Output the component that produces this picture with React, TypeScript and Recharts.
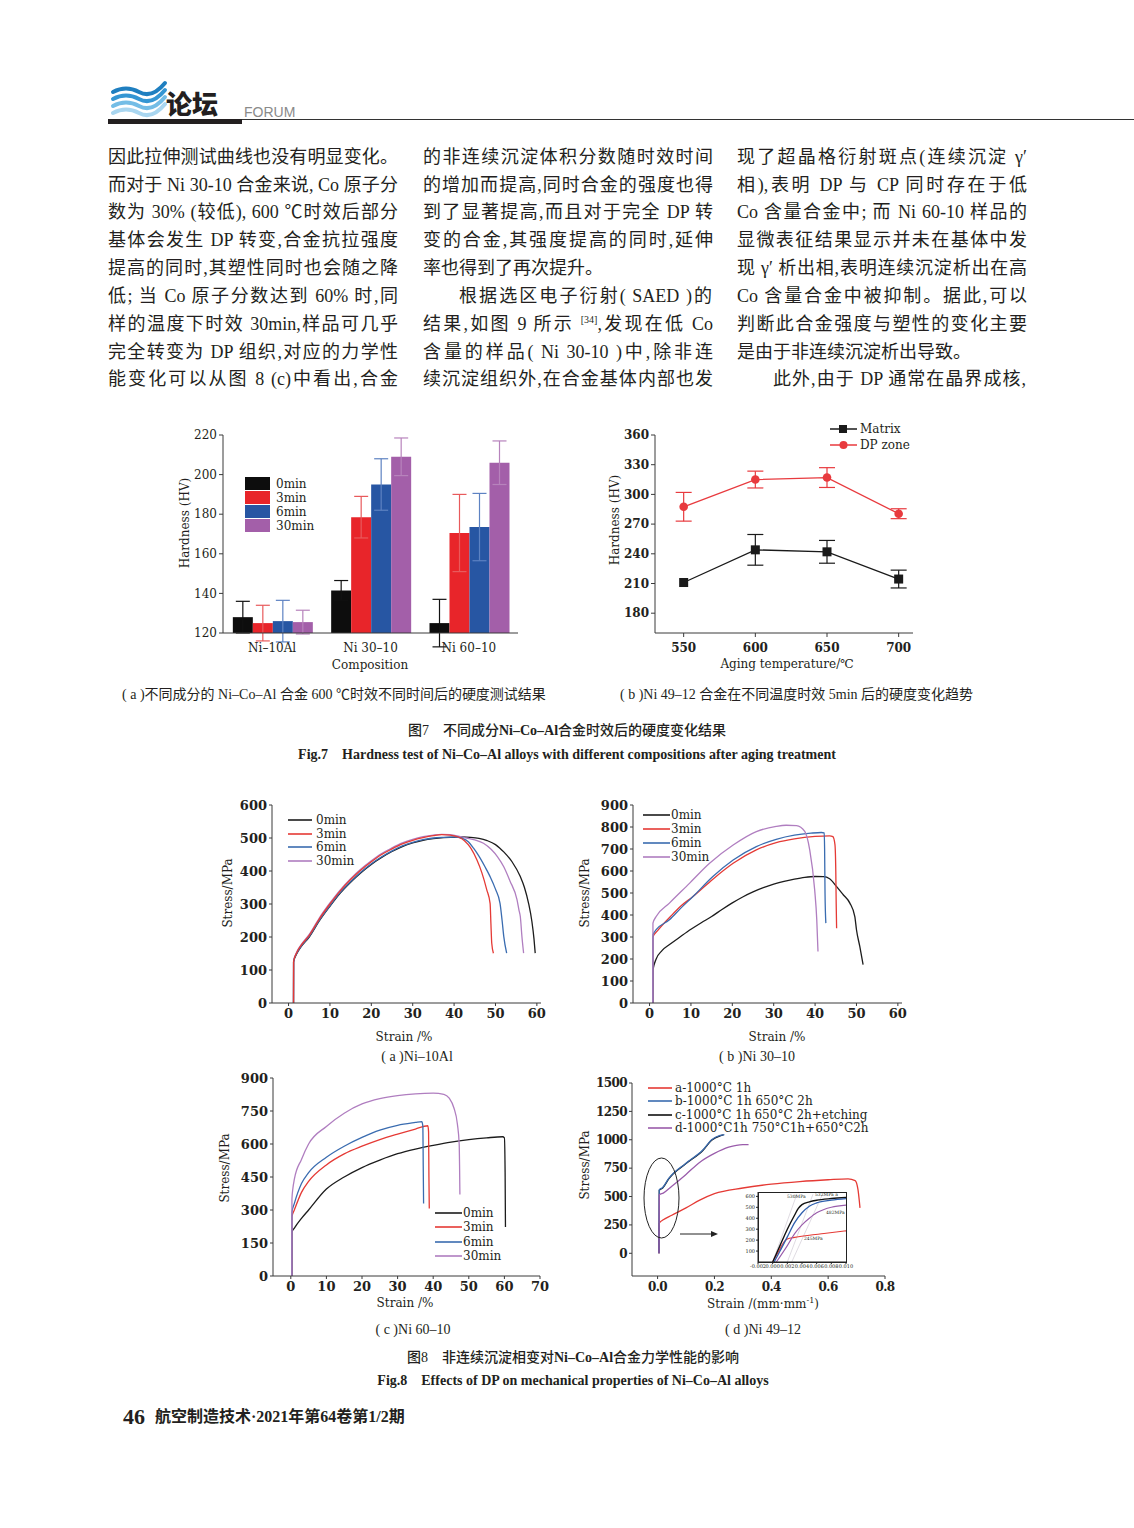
import React from 'react'
import { BarChart, Bar, XAxis, YAxis, ErrorBar, LineChart, Line } from 'recharts'

// ---------- Fig.7(a) hardness by composition ----------
const compositions = ['Ni–10Al', 'Ni 30–10', 'Ni 60–10']
const agingTimes = ['0min', '3min', '6min', '30min']
const hv0 = [128, 141.5, 125]
const hv0Err = [8, 5, 12]
const hv3 = [125, 178.5, 170.5]
const hv3Err = [9, 10.5, 19.5]
const hv6 = [126, 195, 173.5]
const hv6Err = [10.5, 13, 17]
const hv30 = [125.5, 209, 206]
const hv30Err = [6, 9.5, 11]
const hvTicks = [120, 140, 160, 180, 200, 220]

// ---------- Fig.7(b) hardness vs aging temperature ----------
const agingTemps = [550, 600, 650, 700]
const matrixHV = [211, 244, 242, 214.5]
const matrixErr = [0, 15.5, 11.5, 9]
const dpZoneHV = [287.5, 315, 317, 280.5]
const dpZoneErr = [14.5, 8.5, 10, 5]
const tempHvTicks = [180, 210, 240, 270, 300, 330, 360]

// ---------- Fig.8(a) Ni-10Al ----------
const strain0a = [1.2, 1.22, 2, 3, 5, 7.5, 10, 12.5, 15, 17.5, 20, 22.5, 25, 27.5, 30, 32.5, 35, 37.5, 40, 42, 44, 46, 48, 50, 51, 52, 54, 56, 57, 58, 58.8, 59.3, 59.6]
const stress0a = [0, 124, 150, 170, 200, 250, 293, 333, 366, 395, 420, 441, 459, 474, 485, 493, 498, 501, 502, 503, 502, 499, 492, 480, 470, 458, 428, 383, 350, 302, 247, 195, 151]
const strain3a = [1.2, 1.22, 2, 3, 5, 7.5, 10, 12.5, 15, 17.5, 20, 22.5, 25, 27.5, 30, 32.5, 35, 37, 39, 41, 42.5, 44, 45.5, 46.7, 47.9, 48.7, 48.9, 49.1, 49.5]
const stress3a = [0, 126, 153, 174, 205, 256, 300, 340, 374, 403, 428, 450, 467, 482, 493, 501, 507, 510, 509, 503, 492, 470, 434, 395, 343, 302, 240, 181, 151]
const strain6a = [1.2, 1.22, 2, 3, 5, 7.5, 10, 12.5, 15, 17.5, 20, 22.5, 25, 27.5, 30, 32.5, 35, 37.5, 40, 42, 43.5, 44.7, 46, 47.5, 48.7, 50, 51.1, 51.6, 52, 52.7]
const stress6a = [0, 125, 151, 171, 202, 252, 295, 335, 368, 397, 422, 443, 461, 476, 487, 495, 500, 502, 503, 499, 488, 469, 445, 412, 383, 345, 302, 250, 202, 151]
const strain30a = [1.2, 1.22, 2, 3, 5, 7.5, 10, 12.5, 15, 17.5, 20, 22.5, 25, 27.5, 30, 32.5, 35, 37, 39, 41, 43, 45, 47.1, 49, 50.5, 52, 53.5, 55.2, 55.7, 56, 56.4, 56.8]
const stress30a = [0, 127, 155, 176, 208, 259, 303, 343, 377, 406, 431, 453, 470, 485, 496, 504, 509, 511, 510, 506, 500, 494, 484, 465, 443, 413, 370, 313, 280, 262, 200, 151]

// ---------- Fig.8(b) Ni 30-10 ----------
const strain0b = [0.8, 0.82, 1.6, 3, 5, 7.5, 10, 12.5, 15, 17.5, 20, 22.5, 25, 27.5, 30, 32.5, 35, 37.5, 40, 42, 43.5, 45.2, 46.8, 48.4, 49.6, 50, 50.8, 51.6]
const stress0b = [0, 150, 200, 238, 268, 302, 335, 365, 393, 425, 455, 482, 505, 524, 540, 553, 563, 571, 575, 574, 565, 529, 492, 454, 393, 333, 257, 174]
const strain3b = [0.8, 0.82, 2, 5, 7.5, 10.5, 15.3, 20.2, 25.8, 30.6, 35, 40, 43.5, 44.3, 44.8, 45, 45.1, 45.2]
const stress3b = [0, 300, 330, 392, 440, 484, 563, 635, 696, 729, 746, 757, 760, 756, 720, 600, 450, 340]
const strain6b = [0.8, 0.82, 1.6, 4.8, 7.5, 10.5, 15.3, 20.2, 25.8, 30.6, 35, 39, 41.5, 42.2, 42.3, 42.4, 42.6]
const stress6b = [0, 310, 333, 378, 430, 484, 575, 650, 711, 744, 763, 772, 775, 773, 700, 500, 363]
const strain30b = [0.8, 0.82, 1.6, 4.8, 9.7, 14.5, 20.2, 25.8, 30.6, 33, 35.5, 37.5, 38.7, 39.9, 40.4, 40.7]
const stress30b = [0, 363, 393, 454, 545, 635, 718, 779, 803, 808, 806, 780, 696, 514, 380, 234]

// ---------- Fig.8(c) Ni 60-10 ----------
const strain0c = [0.3, 0.32, 1, 3, 5, 10, 15, 20, 25, 30, 35, 40, 45, 50, 55, 59.5, 60, 60.2, 60.3]
const stress0c = [0, 200, 218, 262, 300, 395, 450, 493, 527, 556, 577, 594, 609, 620, 628, 633, 628, 470, 223]
const strain3c = [0.3, 0.32, 1, 3, 5, 10, 15, 20, 25, 30, 35, 38.5, 38.7, 38.8, 38.9]
const stress3c = [0, 270, 300, 380, 430, 505, 555, 590, 620, 645, 668, 683, 655, 450, 307]
const strain6c = [0.3, 0.32, 1, 3, 5, 10, 15, 20, 25, 30, 35, 36.8, 37.1, 37.2, 37.3]
const stress6c = [0, 290, 330, 420, 470, 540, 590, 630, 663, 685, 698, 702, 680, 500, 330]
const strain30c = [0.3, 0.32, 0.6, 1, 3, 5, 10, 15, 20, 25, 30, 35, 40, 43, 44.5, 45.8, 46.8, 47.3, 47.5]
const stress30c = [0, 350, 400, 440, 530, 600, 680, 740, 782, 806, 820, 828, 831, 826, 808, 765, 690, 600, 370]

// ---------- Fig.8(d) Ni 49-12 ----------
const treatments = ['a-1000°C 1h', 'b-1000°C 1h 650°C 2h', 'c-1000°C 1h 650°C 2h+etching', 'd-1000°C1h 750°C1h+650°C2h']
const strainA = [0.005, 0.006, 0.02, 0.05, 0.1, 0.15, 0.2, 0.3, 0.4, 0.5, 0.6, 0.67, 0.695, 0.705, 0.712]
const stressA = [0, 265, 295, 335, 400, 470, 525, 575, 609, 632, 648, 656, 640, 560, 400]
const strainB = [0.005, 0.006, 0.018, 0.04, 0.1, 0.16, 0.19, 0.22, 0.235]
const stressB = [0, 560, 580, 662, 794, 912, 1000, 1038, 1045]
const strainC = [0.005, 0.006, 0.018, 0.04, 0.1, 0.16, 0.19, 0.22, 0.232]
const stressC = [0, 555, 575, 658, 790, 908, 996, 1035, 1043]
const strainD = [0.005, 0.006, 0.02, 0.05, 0.1, 0.15, 0.2, 0.25, 0.3, 0.32]
const stressD = [0, 515, 530, 590, 695, 805, 880, 935, 958, 958]

// inset (yield region)
const insetStrainA = [0, 0.001, 0.0015, 0.002, 0.003, 0.005, 0.007, 0.01]
const insetStressA = [0, 120, 180, 210, 225, 245, 260, 285]
const insetStrainB = [0.0002, 0.001, 0.002, 0.003, 0.004, 0.005, 0.006, 0.008, 0.01]
const insetStressB = [0, 100, 230, 360, 450, 510, 540, 565, 580]
const insetStrainC = [0, 0.001, 0.002, 0.003, 0.0035, 0.004, 0.005, 0.006, 0.008, 0.01]
const insetStressC = [0, 150, 300, 430, 490, 525, 550, 565, 580, 590]
const insetStrainD = [0.0005, 0.002, 0.003, 0.004, 0.005, 0.006, 0.007, 0.008, 0.01]
const insetStressD = [0, 150, 260, 340, 400, 450, 480, 500, 520]
const offsetStrain1 = [0, 0.0033]
const offsetStrain2 = [0.002, 0.0055]
const offsetStrain3 = [0.0026, 0.0068]
const offsetStress = [0, 620]
const yieldLabels = ['530MPa', '532MPa a', '482MPa', '245MPa']

const timeColors = ['#1c1c1c', '#e53a35', '#3a6cb0', '#b07ec0']
const treatColors = ['#e53a35', '#3a6cb0', '#111111', '#9a5cab']
const barColors = ['#0d0d0d', '#e8252a', '#2756a3', '#a35fa9']
const whiskerColors = ['#111111', '#e85a5c', '#5d82c2', '#b783bc']

const ink = '#231f20'
const axisStroke = '#3a3a3a'
const serif = '"DejaVu Serif", serif'
const bodyFont = '"Liberation Serif", "Noto Sans CJK SC", serif'
const cjk = '"Liberation Serif", "Noto Sans CJK SC", sans-serif'

const zip = (xs: number[], ys: number[]) => xs.map((x, i) => ({ x, y: ys[i] }))

const hardnessData = compositions.map((name, i) => ({
  name,
  t0: hv0[i], e0: hv0Err[i],
  t3: hv3[i], e3: hv3Err[i],
  t6: hv6[i], e6: hv6Err[i],
  t30: hv30[i], e30: hv30Err[i],
}))
const tempData = agingTemps.map((temp, i) => ({
  temp, matrix: matrixHV[i], matrixErr: matrixErr[i], dp: dpZoneHV[i], dpErr: dpZoneErr[i],
}))

const col1 = [
  '因此拉伸测试曲线也没有明显变化。',
  '而对于 Ni 30-10 合金来说, Co 原子分',
  '数为 30% (较低), 600 ℃时效后部分',
  '基体会发生 DP 转变,合金抗拉强度',
  '提高的同时,其塑性同时也会随之降',
  '低; 当 Co 原子分数达到 60% 时,同',
  '样的温度下时效 30min,样品可几乎',
  '完全转变为 DP 组织,对应的力学性',
  '能变化可以从图 8 (c)中看出,合金',
]
const col2 = [
  '的非连续沉淀体积分数随时效时间',
  '的增加而提高,同时合金的强度也得',
  '到了显著提高,而且对于完全 DP 转',
  '变的合金,其强度提高的同时,延伸',
  '率也得到了再次提升。',
  '根据选区电子衍射( SAED )的',
  '结果,如图 9 所示 [34],发现在低 Co',
  '含量的样品( Ni 30-10 )中,除非连',
  '续沉淀组织外,在合金基体内部也发',
]
const col3 = [
  '现了超晶格衍射斑点(连续沉淀 γ′',
  '相),表明 DP 与 CP 同时存在于低',
  'Co 含量合金中; 而 Ni 60-10 样品的',
  '显微表征结果显示并未在基体中发',
  '现 γ′ 析出相,表明连续沉淀析出在高',
  'Co 含量合金中被抑制。据此,可以',
  '判断此合金强度与塑性的变化主要',
  '是由于非连续沉淀析出导致。',
  '此外,由于 DP 通常在晶界成核,',
]
const lineTops = [157, 185, 212, 240, 268, 296, 324, 352, 379]

function T({ x, y, children, size = 12, family = serif, weight = 400, anchor = 'start', color = ink, rotate = false, style = {} }: any) {
  const tx = anchor === 'middle' ? '-50%' : anchor === 'end' ? '-100%' : '0'
  return (
    <div style={{ position: 'absolute', left: x, top: y, transform: `translate(${tx}, -50%)${rotate ? ' rotate(-90deg)' : ''}`, whiteSpace: 'nowrap', fontSize: size, fontFamily: family, fontWeight: weight, color, lineHeight: 1, ...style }}>
      {children}
    </div>
  )
}

function BodyLine({ x, y, text, last, indent }: any) {
  const parts = text.split('[34]')
  return (
    <div style={{ position: 'absolute', left: x, top: y - 13, width: indent ? 289 - 36 : 290, marginLeft: indent ? 36 : 0, fontSize: 18, lineHeight: '26px', fontFamily: bodyFont, color: ink, textAlign: last ? 'left' : 'justify', textAlignLast: last ? 'left' : 'justify' } as any}>
      {parts.length > 1 ? (<>{parts[0]}<sup style={{ fontSize: 10, lineHeight: 0 }}>[34]</sup>{parts[1]}</>) : text}
    </div>
  )
}

function LineLegend({ x, y, items, colors, len, gap, pitch, size = 12 }: any) {
  return (
    <>
      {items.map((label: string, i: number) => (
        <div key={label} style={{ position: 'absolute', left: x, top: y + i * pitch - 7, height: 14, display: 'flex', alignItems: 'center', fontFamily: serif, fontSize: size, color: ink, whiteSpace: 'nowrap' }}>
          <svg width={len} height={14} style={{ marginRight: gap, flex: 'none' }}>
            <line x1={0} y1={7} x2={len} y2={7} stroke={colors[i]} strokeWidth={1.6} />
          </svg>
          {label}
        </div>
      ))}
    </>
  )
}

const boldTick = { fill: ink, fontSize: 13, fontFamily: serif, fontWeight: 700 }

function TensileChart({ left, top, width, height, yWidth, right, xDomain, xTicks, yDomain, yTicks, series, xFormat, tick = boldTick }: any) {
  return (
    <div style={{ position: 'absolute', left, top }}>
      <LineChart width={width} height={height} margin={{ top: 10, right, bottom: 0, left: 0 }}>
        <XAxis type="number" dataKey="x" domain={xDomain} ticks={xTicks} allowDataOverflow height={32} tickSize={3} tickMargin={3} tickFormatter={xFormat} axisLine={{ stroke: axisStroke }} tickLine={{ stroke: axisStroke }} tick={tick} />
        <YAxis type="number" domain={yDomain} ticks={yTicks} allowDataOverflow width={yWidth} tickSize={3} tickMargin={2} axisLine={{ stroke: axisStroke }} tickLine={{ stroke: axisStroke }} tick={tick} />
        {series.map((s: any) => (
          <Line key={s.name} data={s.data} dataKey="y" type="monotone" stroke={s.color} strokeWidth={1.3} dot={false} activeDot={false} isAnimationActive={false} />
        ))}
      </LineChart>
    </div>
  )
}

function HardnessBars() {
  const keys = ['t0', 't3', 't6', 't30']
  const errs = ['e0', 'e3', 'e6', 'e30']
  const tick = { fill: ink, fontSize: 12, fontFamily: serif }
  return (
    <div style={{ position: 'absolute', left: 160, top: 425 }}>
      <BarChart width={370} height={240} data={hardnessData} margin={{ top: 10, right: 12, bottom: 0, left: 0 }} barCategoryGap="10%" barGap={0}>
        <XAxis dataKey="name" interval={0} height={32} tickLine={false} tickSize={6} tickMargin={4} axisLine={{ stroke: axisStroke }} tick={tick} />
        <YAxis domain={[120, 220]} ticks={hvTicks} allowDataOverflow width={63} tickSize={4} tickMargin={2} axisLine={{ stroke: axisStroke }} tickLine={{ stroke: axisStroke }} tick={tick} />
        {keys.map((k, i) => (
          <Bar key={k} dataKey={k} fill={barColors[i]} isAnimationActive={false}>
            <ErrorBar dataKey={errs[i]} width={7} stroke={whiskerColors[i]} strokeWidth={1.2} direction="y" />
          </Bar>
        ))}
      </BarChart>
    </div>
  )
}

const SquareDot = (p: any) => (p.cx == null ? null : <rect key={`s${p.index}`} x={p.cx - 4.5} y={p.cy - 4.5} width={9} height={9} fill="#1a1a1a" />)
const RoundDot = (p: any) => (p.cx == null ? null : <circle key={`c${p.index}`} cx={p.cx} cy={p.cy} r={4.3} fill="#e83a3e" />)

function TempChart() {
  const tick = { fill: ink, fontSize: 12, fontFamily: serif, fontWeight: 700 }
  return (
    <div style={{ position: 'absolute', left: 590, top: 420 }}>
      <LineChart width={340} height={250} data={tempData} margin={{ top: 15, right: 17, bottom: 0, left: 0 }}>
        <XAxis type="number" dataKey="temp" domain={[530, 710]} ticks={agingTemps} allowDataOverflow height={37} tickSize={4} tickMargin={6} axisLine={{ stroke: axisStroke }} tickLine={{ stroke: axisStroke }} tick={tick} />
        <YAxis type="number" domain={[160, 360]} ticks={tempHvTicks} allowDataOverflow width={65} tickSize={4} tickMargin={2} axisLine={{ stroke: axisStroke }} tickLine={{ stroke: axisStroke }} tick={tick} />
        <Line dataKey="dp" stroke="#e83a3e" strokeWidth={1.3} dot={RoundDot} activeDot={false} isAnimationActive={false}>
          <ErrorBar dataKey="dpErr" direction="y" width={8} stroke="#e83a3e" strokeWidth={1.2} />
        </Line>
        <Line dataKey="matrix" stroke="#1a1a1a" strokeWidth={1.3} dot={SquareDot} activeDot={false} isAnimationActive={false}>
          <ErrorBar dataKey="matrixErr" direction="y" width={8} stroke="#1a1a1a" strokeWidth={1.2} />
        </Line>
      </LineChart>
    </div>
  )
}

function InsetChart() {
  const tick = { fill: ink, fontSize: 5, fontFamily: serif }
  const gray = '#c9c2cf'
  const lines = [
    { name: 'o1', data: zip(offsetStrain1, offsetStress), color: gray, w: 0.6 },
    { name: 'o2', data: zip(offsetStrain2, offsetStress), color: gray, w: 0.6 },
    { name: 'o3', data: zip(offsetStrain3, offsetStress), color: gray, w: 0.6 },
    { name: 'a', data: zip(insetStrainA, insetStressA), color: '#e53a35', w: 1.1 },
    { name: 'd', data: zip(insetStrainD, insetStressD), color: '#9a5cab', w: 1.1 },
    { name: 'c', data: zip(insetStrainC, insetStressC), color: '#111111', w: 1.4 },
    { name: 'b', data: zip(insetStrainB, insetStressB), color: '#2f5fae', w: 1.3 },
  ]
  return (
    <div style={{ position: 'absolute', left: 740, top: 1188 }}>
      <LineChart width={118} height={84} margin={{ top: 4, right: 12, bottom: 0, left: 0 }}>
        <XAxis type="number" dataKey="x" domain={[-0.002, 0.01]} ticks={[-0.002, 0, 0.002, 0.004, 0.006, 0.008, 0.01]} allowDataOverflow height={10} tickSize={2} tickMargin={0} tickFormatter={(v: number) => v.toFixed(3)} axisLine={{ stroke: '#222' }} tickLine={{ stroke: '#222' }} tick={tick} interval={0} />
        <YAxis type="number" domain={[0, 640]} ticks={[100, 200, 300, 400, 500, 600]} allowDataOverflow width={18} tickSize={2} tickMargin={1} axisLine={{ stroke: '#222' }} tickLine={{ stroke: '#222' }} tick={tick} />
        {lines.map(l => (
          <Line key={l.name} data={l.data} dataKey="y" type="monotone" stroke={l.color} strokeWidth={l.w} dot={false} activeDot={false} isAnimationActive={false} />
        ))}
      </LineChart>
    </div>
  )
}

export default function App() {
  const f8a = [
    { name: '0', data: zip(strain0a, stress0a), color: timeColors[0] },
    { name: '30', data: zip(strain30a, stress30a), color: timeColors[3] },
    { name: '6', data: zip(strain6a, stress6a), color: timeColors[2] },
    { name: '3', data: zip(strain3a, stress3a), color: timeColors[1] },
  ]
  const f8b = [
    { name: '0', data: zip(strain0b, stress0b), color: timeColors[0] },
    { name: '3', data: zip(strain3b, stress3b), color: timeColors[1] },
    { name: '6', data: zip(strain6b, stress6b), color: timeColors[2] },
    { name: '30', data: zip(strain30b, stress30b), color: timeColors[3] },
  ]
  const f8c = [
    { name: '0', data: zip(strain0c, stress0c), color: timeColors[0] },
    { name: '3', data: zip(strain3c, stress3c), color: timeColors[1] },
    { name: '6', data: zip(strain6c, stress6c), color: timeColors[2] },
    { name: '30', data: zip(strain30c, stress30c), color: timeColors[3] },
  ]
  const f8d = [
    { name: 'a', data: zip(strainA, stressA), color: treatColors[0] },
    { name: 'c', data: zip(strainC, stressC), color: treatColors[2] },
    { name: 'b', data: zip(strainB, stressB), color: treatColors[1] },
    { name: 'd', data: zip(strainD, stressD), color: treatColors[3] },
  ]
  const smallTick = { fill: ink, fontSize: 12, fontFamily: serif, fontWeight: 700, letterSpacing: -0.6 }

  return (
    <div lang="zh-CN" style={{ position: 'absolute', left: 0, top: 0, width: 1134, height: 1528, background: '#fff', overflow: 'hidden', color: ink }}>
      {/* header */}
      <svg style={{ position: 'absolute', left: 110, top: 80 }} width={58} height={38}>
        <path d="M3 12 Q 16 5, 29 12 T 55 3" stroke="#1f7fc0" strokeWidth={4} fill="none" strokeLinecap="round" />
        <path d="M3 19 Q 16 12, 29 19 T 55 10" stroke="#3596d3" strokeWidth={4} fill="none" strokeLinecap="round" />
        <path d="M3 26 Q 16 19, 29 26 T 55 17" stroke="#74bde6" strokeWidth={4} fill="none" strokeLinecap="round" />
        <path d="M3 33 Q 16 26, 29 33 T 55 24" stroke="#a9d6f0" strokeWidth={4} fill="none" strokeLinecap="round" />
      </svg>
      <T x={166} y={103} size={26} family='"Noto Sans CJK SC", sans-serif' weight={900}>论坛</T>
      <T x={244} y={112} size={14} family='"Liberation Sans", sans-serif' color="#8a8a8a">FORUM</T>
      <div style={{ position: 'absolute', left: 108, top: 119, width: 134, height: 5, background: '#231f20' }} />
      <div style={{ position: 'absolute', left: 242, top: 119, width: 892, height: 1, background: '#333' }} />

      {/* body text */}
      {col1.map((t, i) => <BodyLine key={'a' + i} x={108} y={lineTops[i]} text={t} />)}
      {col2.map((t, i) => <BodyLine key={'b' + i} x={423} y={lineTops[i]} text={t} last={i === 4} indent={i === 5} />)}
      {col3.map((t, i) => <BodyLine key={'c' + i} x={737} y={lineTops[i]} text={t} last={i === 7} indent={i === 8} />)}

      {/* Fig.7(a) */}
      <HardnessBars />
      {agingTimes.map((label, i) => (
        <div key={label} style={{ position: 'absolute', left: 245, top: 477 + i * 14, height: 13, display: 'flex', alignItems: 'center', fontFamily: serif, fontSize: 12, color: ink }}>
          <span style={{ display: 'inline-block', width: 25, height: 13, background: barColors[i], marginRight: 6 }} />
          {label}
        </div>
      ))}
      <T x={185} y={523} anchor="middle" rotate>Hardness (HV)</T>
      <T x={370} y={665} anchor="middle">Composition</T>

      {/* Fig.7(b) */}
      <TempChart />
      <svg style={{ position: 'absolute', left: 830, top: 422 }} width={28} height={30}>
        <line x1={0} y1={7} x2={27} y2={7} stroke="#1a1a1a" strokeWidth={1.5} />
        <rect x={9} y={3} width={8} height={8} fill="#1a1a1a" />
        <line x1={0} y1={23} x2={27} y2={23} stroke="#e83a3e" strokeWidth={1.5} />
        <circle cx={13.5} cy={23} r={4} fill="#e83a3e" />
      </svg>
      <T x={860} y={429}>Matrix</T>
      <T x={860} y={445}>DP zone</T>
      <T x={615} y={520} anchor="middle" rotate>Hardness (HV)</T>
      <T x={787} y={664} anchor="middle">Aging temperature/℃</T>

      <T x={122} y={695} size={14} family={cjk}>( a )不同成分的 Ni–Co–Al 合金 600 ℃时效不同时间后的硬度测试结果</T>
      <T x={620} y={695} size={14} family={cjk}>( b )Ni 49–12 合金在不同温度时效 5min 后的硬度变化趋势</T>
      <T x={567} y={731} size={14} family={cjk} anchor="middle" weight={500}>图7　不同成分<b>Ni–Co–Al</b>合金时效后的硬度变化结果</T>
      <T x={567} y={755} size={14} family='"Liberation Serif", serif' anchor="middle" weight={700}>Fig.7　Hardness test of Ni–Co–Al alloys with different compositions after aging treatment</T>

      {/* Fig.8(a) */}
      <TensileChart left={210} top={795} width={340} height={240} yWidth={62} right={9} xDomain={[-4, 61]} xTicks={[0, 10, 20, 30, 40, 50, 60]} yDomain={[0, 600]} yTicks={[0, 100, 200, 300, 400, 500, 600]} series={f8a} />
      <LineLegend x={288} y={820} items={agingTimes} colors={timeColors} len={24} gap={4} pitch={13.7} />
      <T x={228} y={893} anchor="middle" rotate>Stress/MPa</T>
      <T x={404} y={1037} anchor="middle">Strain /%</T>
      <T x={417} y={1057} anchor="middle" size={14} family={cjk}>( a )Ni–10Al</T>

      {/* Fig.8(b) */}
      <TensileChart left={570} top={795} width={340} height={240} yWidth={63} right={8} xDomain={[-4, 61]} xTicks={[0, 10, 20, 30, 40, 50, 60]} yDomain={[0, 900]} yTicks={[0, 100, 200, 300, 400, 500, 600, 700, 800, 900]} series={f8b} />
      <LineLegend x={643} y={815} items={agingTimes} colors={timeColors} len={27} gap={1} pitch={14} />
      <T x={585} y={893} anchor="middle" rotate>Stress/MPa</T>
      <T x={777} y={1037} anchor="middle">Strain /%</T>
      <T x={757} y={1057} anchor="middle" size={14} family={cjk}>( b )Ni 30–10</T>

      {/* Fig.8(c) */}
      <TensileChart left={210} top={1068} width={340} height={240} yWidth={63} right={10} xDomain={[-5, 70]} xTicks={[0, 10, 20, 30, 40, 50, 60, 70]} yDomain={[0, 900]} yTicks={[0, 150, 300, 450, 600, 750, 900]} series={f8c} />
      <LineLegend x={435} y={1213} items={agingTimes} colors={timeColors} len={27} gap={1} pitch={14.3} />
      <T x={225} y={1168} anchor="middle" rotate>Stress/MPa</T>
      <T x={405} y={1303} anchor="middle">Strain /%</T>
      <T x={413} y={1330} anchor="middle" size={14} family={cjk}>( c )Ni 60–10</T>

      {/* Fig.8(d) */}
      <TensileChart left={570} top={1073} width={325} height={235} yWidth={62} right={10} xDomain={[-0.09, 0.8]} xTicks={[0, 0.2, 0.4, 0.6, 0.8]} xFormat={(v: number) => v.toFixed(1)} yDomain={[-200, 1500]} yTicks={[0, 250, 500, 750, 1000, 1250, 1500]} series={f8d} tick={smallTick} />
      <LineLegend x={648} y={1088} items={treatments} colors={treatColors} len={24} gap={3} pitch={13.3} />
      <svg style={{ position: 'absolute', left: 0, top: 0, overflow: 'visible' }} width={1} height={1}>
        <ellipse cx={661.5} cy={1198} rx={17.5} ry={40} fill="none" stroke="#222" strokeWidth={1} />
        <line x1={680} y1={1234} x2={714} y2={1234} stroke="#222" strokeWidth={1} />
        <path d="M718 1234 L711 1231 L711 1237 Z" fill="#222" />
      </svg>
      <InsetChart />
      <div style={{ position: 'absolute', left: 758, top: 1192, width: 87, height: 69, border: '1px solid #222', pointerEvents: 'none' }} />
      <T x={787} y={1197} size={4.5}>{yieldLabels[0]}</T>
      <T x={815} y={1195} size={4.5}>{yieldLabels[1]}</T>
      <T x={826} y={1213} size={4.5}>{yieldLabels[2]}</T>
      <T x={804} y={1239} size={4.5}>{yieldLabels[3]}</T>
      <T x={585} y={1165} anchor="middle" rotate>Stress/MPa</T>
      <T x={763} y={1303} anchor="middle">Strain /(mm·mm<sup style={{ fontSize: 8 }}>-1</sup>)</T>
      <T x={763} y={1330} anchor="middle" size={14} family={cjk}>( d )Ni 49–12</T>

      <T x={573} y={1358} size={14} family={cjk} anchor="middle" weight={500}>图8　非连续沉淀相变对<b>Ni–Co–Al</b>合金力学性能的影响</T>
      <T x={573} y={1381} size={14} family='"Liberation Serif", serif' anchor="middle" weight={700}>Fig.8　Effects of DP on mechanical properties of Ni–Co–Al alloys</T>

      {/* footer */}
      <T x={123} y={1417} size={22} family='"Liberation Serif", serif' weight={700}>46</T>
      <T x={155} y={1417} size={16} family={cjk} weight={700}>航空制造技术·2021年第64卷第1/2期</T>
    </div>
  )
}
